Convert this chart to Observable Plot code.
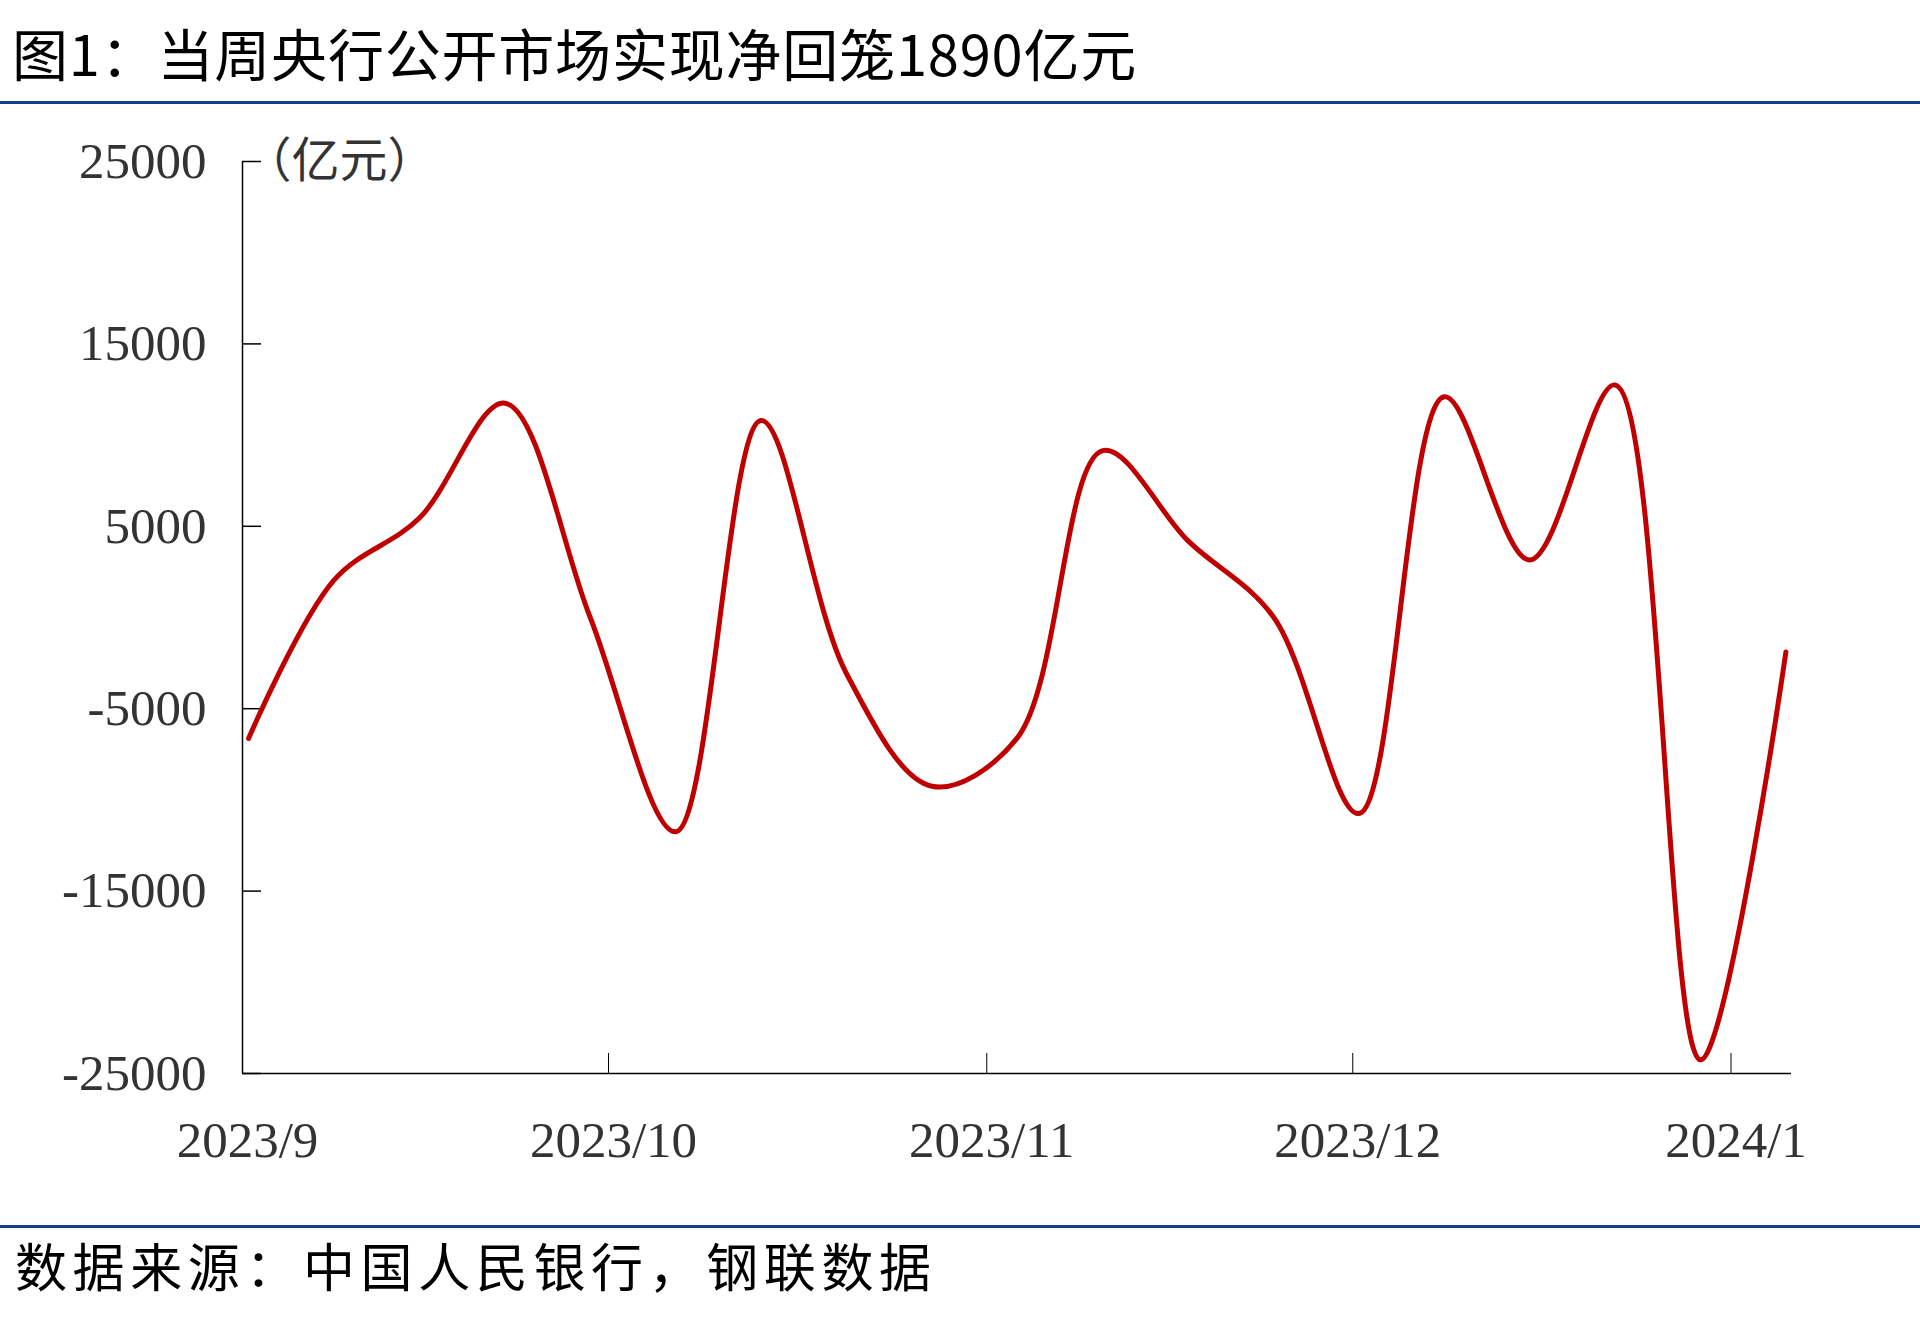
<!DOCTYPE html>
<html>
<head>
<meta charset="utf-8">
<script src="https://cdn.jsdelivr.net/npm/d3@7"></script>
<script src="https://cdn.jsdelivr.net/npm/@observablehq/plot@0.6"></script>
<style>
html, body { margin: 0; padding: 0; background: #fff; }
#page { position: relative; width: 1920px; height: 1331px; overflow: hidden; background: #fff; }
.title { position: absolute; left: 12px; top: 24px; font-family: "Noto Sans CJK SC"; font-size: 56px; line-height: 56px; letter-spacing: 0.8px; color: #000; white-space: nowrap; }
.rule { position: absolute; left: 0; width: 1920px; height: 3px; background: #163f8c; }
.footer { position: absolute; left: 15px; top: 1239px; font-family: "Noto Sans CJK SC"; font-size: 52px; line-height: 52px; letter-spacing: 5.6px; color: #000; white-space: nowrap; }
#chart { position: absolute; left: 0; top: 110px; }
</style>
</head>
<body>
<div id="page">
  <div class="title">图1：当周央行公开市场实现净回笼1890亿元</div>
  <div class="rule" style="top:101px"></div>
  <div id="chart"></div>
  <div class="rule" style="top:1225px"></div>
  <div class="footer">数据来源：中国人民银行，钢联数据</div>
</div>
<script>
// weekly dates (week ending) and net injection values (亿元)
const dates = ["2023-09-01","2023-09-08","2023-09-15","2023-09-22","2023-09-29",
  "2023-10-06","2023-10-13","2023-10-20","2023-10-27","2023-11-03","2023-11-10",
  "2023-11-17","2023-11-24","2023-12-01","2023-12-08","2023-12-15","2023-12-22",
  "2023-12-29","2024-01-05"];
const values = [-6630, 2050, 5450, 11750, 0,
  -11750, 10800, -3070, -9250, -6600, 9150,
  4200, 30, -10750, 12100, 3150, 12750,
  -24250, -1890];
const yTicks = [-25000, -15000, -5000, 5000, 15000, 25000];
const monthTicks = ["2023-09-01","2023-10-01","2023-11-01","2023-12-01","2024-01-01"];
const unitLabel = "（亿元）";

const parse = d3.timeParse("%Y-%m-%d");
// each weekly point sits in the middle of its day
const data = dates.map((d, i) => ({date: d3.timeHour.offset(parse(d), 12), value: values[i]}));
const months = monthTicks.map(parse);
const xDomain = [parse("2023-09-01"), new Date(2024, 0, 5, 23)];
const fmt = d => `${d.getFullYear()}/${d.getMonth() + 1}`;

const chart = Plot.plot({
  width: 1920,
  height: 1100,
  marginLeft: 242,
  marginRight: 129,
  marginTop: 51,
  marginBottom: 137,
  x: {type: "time", domain: xDomain},
  y: {domain: [-25000, 25000]},
  style: {fontFamily: '"Liberation Serif", serif', fontSize: "51px", color: "#333", background: "transparent"},
  marks: [
    Plot.ruleX([xDomain[0]], {stroke: "#000", strokeWidth: 1.5}),
    Plot.ruleY([-25000], {stroke: "#000", strokeWidth: 1.5}),
    Plot.axisY(yTicks, {tickSize: -19, tickFormat: () => "", stroke: "#000", strokeWidth: 1.5, label: null}),
    Plot.axisY(yTicks, {tickSize: 0, tickPadding: 36, tickFormat: d => String(d), fill: "#333", fontSize: 51, label: null}),
    Plot.axisX(months, {tickSize: -20, tickFormat: () => "", stroke: "#000", strokeWidth: 1, label: null}),
    Plot.axisX(months, {tickSize: 0, tickPadding: 47, dx: 5, tickFormat: fmt, fill: "#333", fontSize: 51, label: null}),
    Plot.line(data, {x: "date", y: "value", stroke: "#C00000", strokeWidth: 5, curve: "catmull-rom", strokeLinecap: "round", strokeLinejoin: "round"}),
    Plot.text([unitLabel], {frameAnchor: "top-left", dx: 1, textAnchor: "start", lineAnchor: "middle", fontFamily: "Noto Sans CJK SC", fontSize: 48, letterSpacing: 6, fill: "#333"})
  ]
});
document.getElementById("chart").appendChild(chart);
</script>
</body>
</html>
